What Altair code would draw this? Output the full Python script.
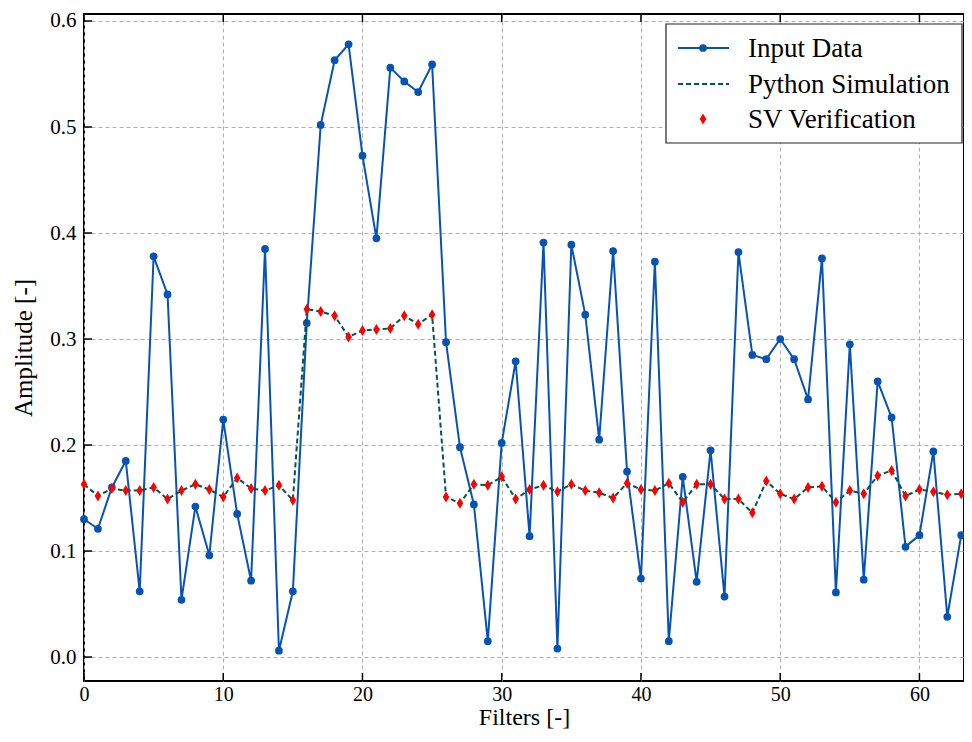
import altair as alt
import pandas as pd

# ---------------- data ----------------
filters = list(range(64))

input_data = [0.130, 0.121, 0.160, 0.185, 0.062, 0.378, 0.342, 0.054, 0.142, 0.096,
              0.224, 0.135, 0.072, 0.385, 0.006, 0.062, 0.315, 0.502, 0.563, 0.578,
              0.473, 0.395, 0.556, 0.543, 0.533, 0.559, 0.297, 0.198, 0.144, 0.015,
              0.202, 0.279, 0.114, 0.391, 0.008, 0.389, 0.323, 0.205, 0.383, 0.175,
              0.074, 0.373, 0.015, 0.170, 0.071, 0.195, 0.057, 0.382, 0.285, 0.281,
              0.300, 0.281, 0.243, 0.376, 0.061, 0.295, 0.073, 0.260, 0.226, 0.104,
              0.115, 0.194, 0.038, 0.115]

python_sim = [0.163, 0.152, 0.159, 0.157, 0.157, 0.160, 0.149, 0.157, 0.163, 0.158,
              0.151, 0.169, 0.159, 0.157, 0.162, 0.148, 0.328, 0.326, 0.322, 0.302,
              0.308, 0.309, 0.310, 0.322, 0.314, 0.323, 0.151, 0.145, 0.163, 0.162,
              0.170, 0.149, 0.158, 0.162, 0.156, 0.163, 0.157, 0.155, 0.150, 0.164,
              0.158, 0.157, 0.164, 0.146, 0.163, 0.163, 0.149, 0.149, 0.136, 0.166,
              0.154, 0.149, 0.160, 0.161, 0.146, 0.157, 0.154, 0.171, 0.176, 0.152,
              0.158, 0.156, 0.153, 0.154]

sv_verification = [0.163, 0.152, 0.159, 0.157, 0.157, 0.160, 0.149, 0.157, 0.163, 0.158,
                   0.151, 0.169, 0.159, 0.157, 0.162, 0.148, 0.328, 0.326, 0.322, 0.302,
                   0.308, 0.309, 0.310, 0.322, 0.314, 0.323, 0.151, 0.145, 0.163, 0.162,
                   0.170, 0.149, 0.158, 0.162, 0.156, 0.163, 0.157, 0.155, 0.150, 0.164,
                   0.158, 0.157, 0.164, 0.146, 0.163, 0.163, 0.149, 0.149, 0.136, 0.166,
                   0.154, 0.149, 0.160, 0.161, 0.146, 0.157, 0.154, 0.171, 0.176, 0.152,
                   0.158, 0.156, 0.153, 0.154]

x_ticks = [0, 10, 20, 30, 40, 50, 60]
y_ticks = [0.0, 0.1, 0.2, 0.3, 0.4, 0.5, 0.6]
legend_labels = ["Input Data", "Python Simulation", "SV Verification"]

# ---------------- style ----------------
FONT = "Liberation Serif"
BLUE = "#0753B4"
GREEN = "#00574A"
RED = "#FF0000"
DIAMOND = "M0,-1L0.6,0L0,1L-0.6,0Z"
W, H = 880, 667

df = pd.DataFrame({"filter": filters, "input": input_data,
                   "sim": python_sim, "sv": sv_verification})

xscale = alt.Scale(domain=[0, 63.2], nice=False, zero=False)
yscale = alt.Scale(domain=[-0.0226, 0.6066], nice=False, zero=False)
xaxis = alt.Axis(values=x_ticks, format="d", labelPadding=3, titlePadding=1,
                 labelFlush=False, labelFontSize=20, titleFontSize=24)
yaxis = alt.Axis(values=y_ticks, format=".1f", labelPadding=8, titlePadding=13,
                 minExtent=35, maxExtent=35, labelFlush=False)


def X(field):
    return alt.X(field, scale=xscale, axis=xaxis, title="Filters [-]")


def Y(field):
    return alt.Y(field, scale=yscale, axis=yaxis, title="Amplitude [-]")


base = alt.Chart(df)
input_line = base.mark_line(color=BLUE, strokeWidth=2).encode(x=X("filter:Q"), y=Y("input:Q"))
input_pts = base.mark_circle(color=BLUE, size=60, opacity=1).encode(x=X("filter:Q"), y=Y("input:Q"))
sim_line = base.mark_line(color=GREEN, strokeWidth=2, strokeDash=[5, 3]).encode(
    x=X("filter:Q"), y=Y("sim:Q"))
sv_pts = base.mark_point(shape=DIAMOND, filled=True, color=RED, size=121, opacity=1,
                         strokeWidth=0).encode(x=X("filter:Q"), y=Y("sv:Q"))

# inward ticks
tx = pd.DataFrame({"t": x_ticks})
ty = pd.DataFrame({"t": y_ticks})
TL = 8
tick_bottom = alt.Chart(tx).mark_rule(color="black", strokeWidth=1.5).encode(
    x=X("t:Q"), y=alt.value(H - TL), y2=alt.value(H))
tick_top = alt.Chart(tx).mark_rule(color="black", strokeWidth=1.5).encode(
    x=X("t:Q"), y=alt.value(0), y2=alt.value(TL))
tick_left = alt.Chart(ty).mark_rule(color="black", strokeWidth=1.5).encode(
    y=Y("t:Q"), x=alt.value(0), x2=alt.value(TL))

# manual legend
dummy = pd.DataFrame({"k": [0]})
lg = alt.Chart(dummy)
leg_box = lg.mark_rect(fill="white", stroke="#222222", strokeWidth=1.2).encode(
    x=alt.value(582), x2=alt.value(878), y=alt.value(10), y2=alt.value(129))
leg_l1 = lg.mark_rule(color=BLUE, strokeWidth=2).encode(
    x=alt.value(594), x2=alt.value(645), y=alt.value(34))
leg_p1 = lg.mark_circle(color=BLUE, size=60, opacity=1).encode(
    x=alt.value(619), y=alt.value(34))
leg_l2 = lg.mark_rule(color=GREEN, strokeWidth=2, strokeDash=[5, 3]).encode(
    x=alt.value(594), x2=alt.value(645), y=alt.value(70))
leg_p3 = lg.mark_point(shape=DIAMOND, filled=True, color=RED, size=121, opacity=1,
                       strokeWidth=0).encode(x=alt.value(619), y=alt.value(105))
leg_texts = [
    lg.mark_text(align="left", baseline="middle", font=FONT, fontSize=27, color="black").encode(
        x=alt.value(664), y=alt.value(yy), text=alt.value(lbl))
    for lbl, yy in zip(legend_labels, [35, 71, 106])
]

chart = alt.layer(
    input_line, input_pts, sim_line, sv_pts,
    tick_bottom, tick_top, tick_left,
    leg_box, leg_l1, leg_p1, leg_l2, leg_p3, *leg_texts
).properties(
    width=W, height=H,
    autosize=alt.AutoSizeParams(type="none"),
    padding={"left": 76, "top": 6, "right": 0, "bottom": 53},
).configure_view(
    stroke="black", strokeWidth=2
).configure_axis(
    domain=False, ticks=False, grid=True,
    gridColor="#b0b0b0", gridDash=[4, 3], gridWidth=1,
    labelFont=FONT, labelFontSize=21, labelColor="black",
    titleFont=FONT, titleFontSize=25, titleFontWeight="normal", titleColor="black",
)

chart.save("out.html", embed_options={"renderer": "svg", "actions": False})
